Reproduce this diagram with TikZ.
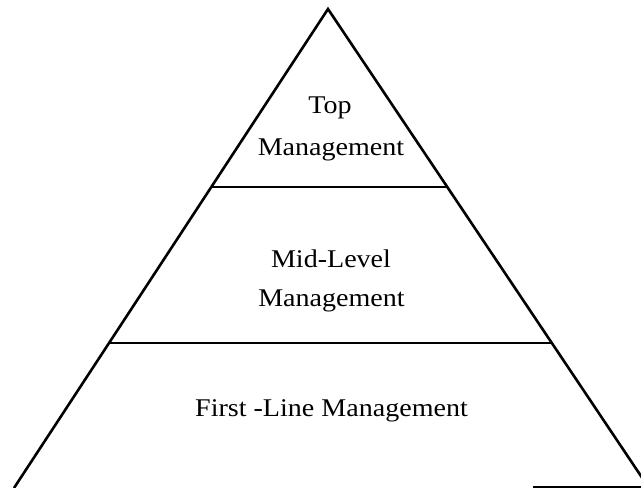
\documentclass[tikz,border=0pt]{standalone}
\usepackage{fontspec}
\setmainfont{Liberation Serif}
\usetikzlibrary{calc}
\tikzset{
  edge/.style={line width=2.6pt, line join=miter},
  tier/.style={line width=2.1pt},
  lbl/.style={anchor=base, inner sep=0pt, font=\fontsize{25.5}{40}\selectfont, xscale=1.1, transform shape}
}
\begin{document}
\begin{tikzpicture}[x=1pt,y=-1pt]
\useasboundingbox (0,0) rectangle (641,488);
\clip (0,0) rectangle (641,488);
\coordinate (apex) at (328,9);
\coordinate (bl) at (14,488);
\coordinate (br) at (649,488);
\coordinate (l1) at ($(apex)!0.3716!(bl)$);
\coordinate (r1) at ($(apex)!0.3716!(br)$);
\coordinate (l2) at ($(apex)!0.6973!(bl)$);
\coordinate (r2) at ($(apex)!0.6973!(br)$);
\coordinate (b1) at (533,487);
\coordinate (b2) at (641,487);
\draw[edge] (bl) -- (apex) -- (br);
\draw[tier] (l1) -- (r1);
\draw[tier] (l2) -- (r2);
\draw[tier] (b1) -- (b2);
\node[lbl] (top1) at (330,113) {Top};
\node[lbl] (top2) at (331,155) {Management};
\node[lbl] (mid1) at (331,267) {Mid-Level};
\node[lbl] (mid2) at (331.5,306) {Management};
\node[lbl] (first) at (331.5,416) {First -Line Management};
\end{tikzpicture}
\end{document}
